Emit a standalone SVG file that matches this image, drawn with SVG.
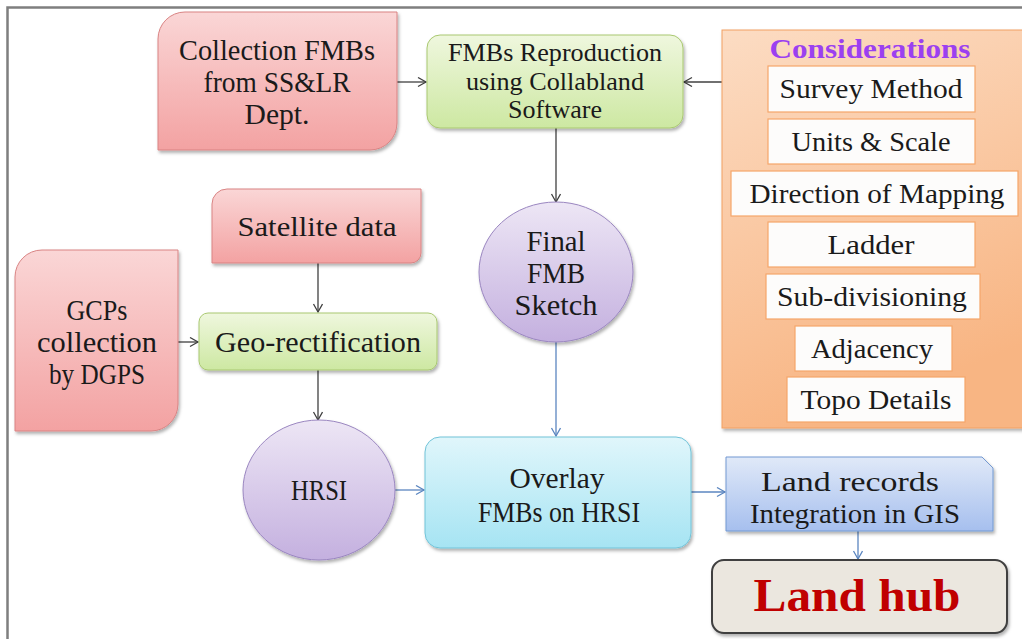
<svg xmlns="http://www.w3.org/2000/svg" width="1022" height="639" viewBox="0 0 1022 639">
<style>
text{font-family:"Liberation Serif","DejaVu Serif",serif;fill:#1a1a1a;text-anchor:middle}
.t26{font-size:28px}
.t24{font-size:25px}
.t27{font-size:29px}
.inner{fill:#fdfcfb;stroke:#f5a66a;stroke-width:1.2}
.c-grey{fill:none;stroke:#404040;stroke-width:1.3}
.c-blue{fill:none;stroke:#5b86c0;stroke-width:1.3}
</style>
<defs>
<linearGradient id="gPink" x1="0" y1="0" x2="0" y2="1"><stop offset="0" stop-color="#fad6d6"/><stop offset="1" stop-color="#f3a2a2"/></linearGradient>
<linearGradient id="gGreen" x1="0" y1="0" x2="0" y2="1"><stop offset="0" stop-color="#eff7de"/><stop offset="1" stop-color="#cde8a2"/></linearGradient>
<linearGradient id="gPurple" x1="0" y1="0" x2="0" y2="1"><stop offset="0" stop-color="#ede6f5"/><stop offset="1" stop-color="#c4b0df"/></linearGradient>
<linearGradient id="gCyan" x1="0" y1="0" x2="0" y2="1"><stop offset="0" stop-color="#e0f6fb"/><stop offset="1" stop-color="#a6e4f3"/></linearGradient>
<linearGradient id="gBlue" x1="0" y1="0" x2="0" y2="1"><stop offset="0" stop-color="#e0e9f8"/><stop offset="1" stop-color="#a6bfee"/></linearGradient>
<linearGradient id="gOrange" x1="0" y1="0" x2="0.3" y2="1"><stop offset="0" stop-color="#fcdcc3"/><stop offset="1" stop-color="#f8b583"/></linearGradient>
<filter id="sh" x="-10%" y="-10%" width="125%" height="130%"><feDropShadow dx="1.5" dy="2.5" stdDeviation="1.8" flood-color="#000" flood-opacity="0.3"/></filter>
<marker id="aG" markerWidth="12" markerHeight="12" refX="9" refY="5" orient="auto" markerUnits="userSpaceOnUse"><path d="M1,0.5 L9,5 L1,9.5" fill="none" stroke="#404040" stroke-width="1.3"/></marker>
<marker id="aB" markerWidth="12" markerHeight="12" refX="9" refY="5" orient="auto" markerUnits="userSpaceOnUse"><path d="M1,0.5 L9,5 L1,9.5" fill="none" stroke="#5b86c0" stroke-width="1.3"/></marker>
</defs>
<rect width="1022" height="639" fill="#fff"/>
<path d="M7.5,639 V7.5 H1022" fill="none" stroke="#7f7f7f" stroke-width="2.5"/>

<g id="connectors">
<line class="c-grey" x1="397" y1="82" x2="426" y2="82" marker-end="url(#aG)"/>
<line class="c-grey" x1="722" y1="82" x2="684" y2="82" marker-end="url(#aG)"/>
<line class="c-grey" x1="556" y1="128" x2="556" y2="202" marker-end="url(#aG)"/>
<line class="c-blue" x1="556" y1="342" x2="556" y2="436" marker-end="url(#aB)"/>
<line class="c-grey" x1="318" y1="263" x2="318" y2="312" marker-end="url(#aG)"/>
<line class="c-grey" x1="178" y1="342" x2="198" y2="342" marker-end="url(#aG)"/>
<line class="c-grey" x1="318" y1="370" x2="318" y2="420" marker-end="url(#aG)"/>
<line class="c-blue" x1="395" y1="490" x2="424" y2="490" marker-end="url(#aB)"/>
<line class="c-blue" x1="691" y1="492" x2="725" y2="492" marker-end="url(#aB)"/>
<line class="c-blue" x1="858" y1="531" x2="858" y2="559" marker-end="url(#aB)"/>
</g>

<g id="collection">
<path d="M158,39 A27,27 0 0 1 185,12 H397 V123 A27,27 0 0 1 370,150 H158 Z" fill="url(#gPink)" stroke="#d98383" filter="url(#sh)"/>
<text class="t27" x="277" y="60" textLength="196" lengthAdjust="spacingAndGlyphs">Collection FMBs</text>
<text class="t27" x="277" y="92" textLength="147" lengthAdjust="spacingAndGlyphs">from SS&amp;LR</text>
<text class="t27" x="277" y="124" textLength="65" lengthAdjust="spacingAndGlyphs">Dept.</text>
</g>

<g id="reproduction">
<rect x="427" y="35" width="256" height="93" rx="13" fill="url(#gGreen)" stroke="#a9c870" filter="url(#sh)"/>
<text class="t24" x="555" y="61" textLength="214" lengthAdjust="spacingAndGlyphs">FMBs Reproduction</text>
<text class="t24" x="555" y="90" textLength="178" lengthAdjust="spacingAndGlyphs">using Collabland</text>
<text class="t24" x="555" y="118" textLength="94" lengthAdjust="spacingAndGlyphs">Software</text>
</g>

<g id="considerations">
<rect x="722" y="30" width="302" height="398" fill="url(#gOrange)" stroke="#f2a062" filter="url(#sh)"/>
<text x="870" y="58" style="font-size:28px;font-weight:bold;fill:#9b40f0" textLength="201" lengthAdjust="spacingAndGlyphs">Considerations</text>
<g id="survey-method"><rect class="inner" x="768" y="66" width="207" height="46"/><text class="t26" x="871" y="98" textLength="183" lengthAdjust="spacingAndGlyphs">Survey Method</text></g>
<g id="units-scale"><rect class="inner" x="768" y="119" width="207" height="45"/><text class="t26" x="871" y="151" textLength="159" lengthAdjust="spacingAndGlyphs">Units &amp; Scale</text></g>
<g id="direction"><rect class="inner" x="731" y="171" width="287" height="45"/><text class="t26" x="877" y="203" textLength="255" lengthAdjust="spacingAndGlyphs">Direction of Mapping</text></g>
<g id="ladder"><rect class="inner" x="768" y="222" width="207" height="45"/><text class="t26" x="871" y="254" textLength="87" lengthAdjust="spacingAndGlyphs">Ladder</text></g>
<g id="subdivisioning"><rect class="inner" x="766" y="274" width="214" height="45"/><text class="t26" x="872" y="306" textLength="190" lengthAdjust="spacingAndGlyphs">Sub-divisioning</text></g>
<g id="adjacency"><rect class="inner" x="795" y="326" width="157" height="45"/><text class="t26" x="872" y="358" textLength="122" lengthAdjust="spacingAndGlyphs">Adjacency</text></g>
<g id="topo"><rect class="inner" x="787" y="377" width="178" height="45"/><text class="t26" x="876" y="409" textLength="151" lengthAdjust="spacingAndGlyphs">Topo Details</text></g>
</g>

<g id="satellite">
<path d="M212,204 A15,15 0 0 1 227,189 H421 V253 A10,10 0 0 1 411,263 H212 Z" fill="url(#gPink)" stroke="#d98383" filter="url(#sh)"/>
<text class="t26" x="317" y="236" textLength="159" lengthAdjust="spacingAndGlyphs">Satellite data</text>
</g>

<g id="gcps">
<path d="M15,277 A27,27 0 0 1 42,250 H178 V404 A27,27 0 0 1 151,431 H15 Z" fill="url(#gPink)" stroke="#d98383" filter="url(#sh)"/>
<text class="t27" x="97" y="320" textLength="61" lengthAdjust="spacingAndGlyphs">GCPs</text>
<text class="t27" x="97" y="352" textLength="120" lengthAdjust="spacingAndGlyphs">collection</text>
<text class="t27" x="97" y="384" textLength="96" lengthAdjust="spacingAndGlyphs">by DGPS</text>
</g>

<g id="geo-rectification">
<rect x="199" y="313" width="238" height="57" rx="9" fill="url(#gGreen)" stroke="#a9c870" filter="url(#sh)"/>
<text class="t27" x="318" y="352" textLength="206" lengthAdjust="spacingAndGlyphs">Geo-rectification</text>
</g>

<g id="final-fmb">
<ellipse cx="556" cy="272" rx="77" ry="70" fill="url(#gPurple)" stroke="#9a86c0" filter="url(#sh)"/>
<text class="t27" x="556" y="251" textLength="59" lengthAdjust="spacingAndGlyphs">Final</text>
<text class="t27" x="556" y="283" textLength="58" lengthAdjust="spacingAndGlyphs">FMB</text>
<text class="t27" x="556" y="315" textLength="83" lengthAdjust="spacingAndGlyphs">Sketch</text>
</g>

<g id="hrsi">
<ellipse cx="319" cy="490" rx="76" ry="70" fill="url(#gPurple)" stroke="#9a86c0" filter="url(#sh)"/>
<text class="t27" x="319" y="500" textLength="56" lengthAdjust="spacingAndGlyphs">HRSI</text>
</g>

<g id="overlay">
<rect x="425" y="437" width="266" height="111" rx="15" fill="url(#gCyan)" stroke="#71c3d8" filter="url(#sh)"/>
<text class="t27" x="557" y="488" textLength="95" lengthAdjust="spacingAndGlyphs">Overlay</text>
<text class="t27" x="559" y="522" textLength="162" lengthAdjust="spacingAndGlyphs">FMBs on HRSI</text>
</g>

<g id="land-records">
<path d="M726,457 H982 L993,468 V531 H726 Z" fill="url(#gBlue)" stroke="#7399d2" filter="url(#sh)"/>
<text class="t26" x="850" y="491" textLength="178" lengthAdjust="spacingAndGlyphs">Land records</text>
<text class="t26" x="855" y="523" textLength="210" lengthAdjust="spacingAndGlyphs">Integration in GIS</text>
</g>

<g id="land-hub">
<rect x="712" y="560" width="295" height="73" rx="12" fill="#ebe7df" stroke="#3f3f3f" stroke-width="2" filter="url(#sh)"/>
<text x="857" y="611" style="font-size:46px;font-weight:bold;fill:#c00000" textLength="207" lengthAdjust="spacingAndGlyphs">Land hub</text>
</g>
</svg>
